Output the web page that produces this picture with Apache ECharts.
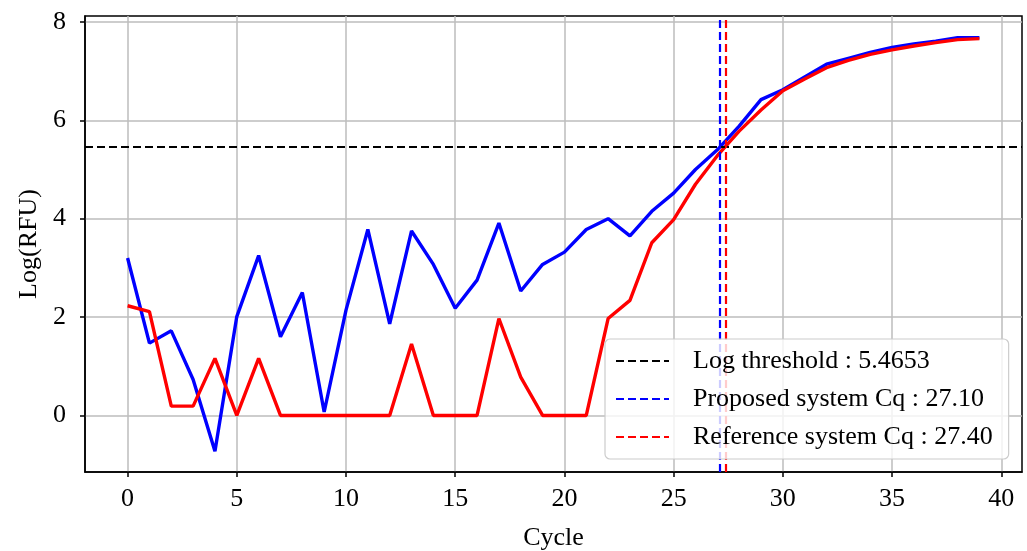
<!DOCTYPE html>
<html>
<head>
<meta charset="utf-8">
<script src="https://cdn.jsdelivr.net/npm/echarts@6/dist/echarts.min.js"></script>
<style>
  html, body { margin: 0; padding: 0; background: #fff; }
  #chart { width: 1027px; height: 551px; }
</style>
</head>
<body>
<div id="chart"></div>
<script>
// qPCR amplification curves, log scale
const cycles = [0, 1, 2, 3, 4, 5, 6, 7, 8, 9, 10, 11, 12, 13, 14, 15, 16, 17, 18, 19,
  20, 21, 22, 23, 24, 25, 26, 27, 28, 29, 30, 31, 32, 33, 34, 35, 36, 37, 38, 39];
const proposedLog = [3.20, 1.47, 1.72, 0.73, -0.73, 2.01, 3.25, 1.60, 2.50, 0.07,
  2.14, 3.78, 1.86, 3.75, 3.07, 2.18, 2.75, 3.91, 2.53, 3.07,
  3.32, 3.78, 4.00, 3.65, 4.15, 4.52, 5.00, 5.40, 5.88, 6.42,
  6.62, 6.88, 7.14, 7.26, 7.38, 7.48, 7.55, 7.61, 7.68, 7.68];
const referenceLog = [2.23, 2.11, 0.19, 0.19, 1.16, 0, 1.16, 0, 0, 0,
  0, 0, 0, 1.45, 0, 0, 0, 1.97, 0.78, 0,
  0, 0, 1.97, 2.34, 3.51, 3.98, 4.70, 5.28, 5.78, 6.21,
  6.60, 6.84, 7.07, 7.22, 7.34, 7.43, 7.51, 7.58, 7.64, 7.66];
const logThreshold = 5.4653;
const cqProposed = 27.10;
const cqReference = 27.40;
const xTicks = [0, 5, 10, 15, 20, 25, 30, 35, 40];
const yTicks = [0, 2, 4, 6, 8];

const FONT = '"Liberation Serif", "DejaVu Serif", serif';
const FS = 26;
const pairs = (vals) => cycles.map((c, i) => [c, vals[i]]);

const chart = echarts.init(document.getElementById('chart'));

const dashedMark = (axisKey, value, color) => ({
  silent: true,
  symbol: ['none', 'none'],
  label: { show: false },
  lineStyle: { color: color, type: [8, 4], width: 2.2 },
  data: [{ [axisKey]: value }]
});

const axisCommon = (ticks, labelMargin) => ({
  axisLine: { show: true, onZero: false, lineStyle: { color: '#000', width: 1.5 } },
  axisTick: { show: true, customValues: ticks, length: 5, lineStyle: { color: '#000', width: 1.5 } },
  axisLabel: { customValues: ticks, fontFamily: FONT, fontSize: FS, color: '#000', margin: labelMargin },
  splitLine: { show: true, customValues: ticks, lineStyle: { color: '#bdbdbd', width: 1.5 } }
});

chart.setOption({
  animation: false,
  backgroundColor: '#fff',
  textStyle: { fontFamily: FONT },
  grid: {
    left: 85, right: 5, top: 16, bottom: 79,
    outerBoundsMode: 'none',
    containLabel: false,
    show: true, borderColor: '#000', borderWidth: 1.5, backgroundColor: 'transparent'
  },
  legend: {
    orient: 'vertical',
    left: 605, top: 339,
    z: 20,
    itemWidth: 53, itemHeight: 14, itemGap: 12,
    padding: [9, 16, 9, 10],
    backgroundColor: 'rgba(255,255,255,0.8)',
    borderColor: '#cccccc', borderWidth: 1.2, borderRadius: 5,
    itemStyle: { opacity: 0, borderWidth: 0 },
    textStyle: { fontFamily: FONT, fontSize: FS, color: '#000', padding: [0, 0, 0, 19] },
    data: [
      'Log threshold : ' + logThreshold.toFixed(4),
      'Proposed system Cq : ' + cqProposed.toFixed(2),
      'Reference system Cq : ' + cqReference.toFixed(2)
    ]
  },
  xAxis: Object.assign({
    type: 'value',
    min: -1.95, max: 40.95,
    splitNumber: 8,
    name: 'Cycle',
    nameLocation: 'middle',
    nameGap: 53,
    nameTextStyle: { fontFamily: FONT, fontSize: FS, color: '#000' }
  }, axisCommon(xTicks, 14)),
  yAxis: Object.assign({
    type: 'value',
    min: -1.15, max: 8.12,
    splitNumber: 5,
    name: 'Log(RFU)',
    nameLocation: 'middle',
    nameGap: 29,
    nameTextStyle: { fontFamily: FONT, fontSize: FS, color: '#000' }
  }, axisCommon(yTicks, 19)),
  series: [
    {
      name: 'Proposed curve',
      type: 'line',
      data: pairs(proposedLog),
      symbol: 'none',
      lineStyle: { color: '#0000ff', width: 3.4 },
      itemStyle: { color: '#0000ff' },
      z: 3
    },
    {
      name: 'Reference curve',
      type: 'line',
      data: pairs(referenceLog),
      symbol: 'none',
      lineStyle: { color: '#ff0000', width: 3.4 },
      itemStyle: { color: '#ff0000' },
      z: 4
    },
    {
      name: 'Log threshold : ' + logThreshold.toFixed(4),
      type: 'line',
      data: [],
      symbol: 'none',
      lineStyle: { color: '#000', type: [8, 4], width: 2.2 },
      itemStyle: { color: '#000' },
      markLine: dashedMark('yAxis', logThreshold, '#000'),
      z: 5
    },
    {
      name: 'Proposed system Cq : ' + cqProposed.toFixed(2),
      type: 'line',
      data: [],
      symbol: 'none',
      lineStyle: { color: '#0000ff', type: [8, 4], width: 2.2 },
      itemStyle: { color: '#0000ff' },
      markLine: dashedMark('xAxis', cqProposed, '#0000ff'),
      z: 5
    },
    {
      name: 'Reference system Cq : ' + cqReference.toFixed(2),
      type: 'line',
      data: [],
      symbol: 'none',
      lineStyle: { color: '#ff0000', type: [8, 4], width: 2.2 },
      itemStyle: { color: '#ff0000' },
      markLine: dashedMark('xAxis', cqReference, '#ff0000'),
      z: 5
    }
  ]
});
</script>
</body>
</html>
